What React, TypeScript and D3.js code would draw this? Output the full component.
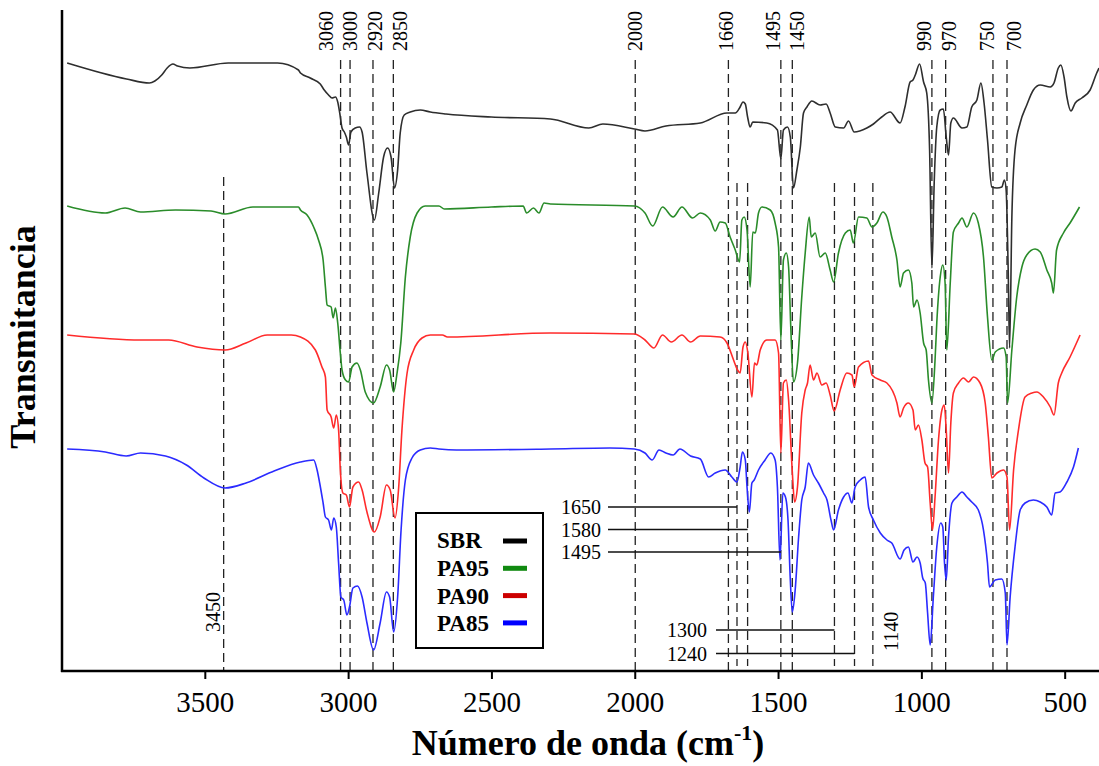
import React from 'react'
import * as d3 from 'd3'

type Pt = [number, number]

// [wavenumber cm-1, transmittance (a.u., offset per sample)]
const sbr: Pt[] = [
  [3982, 608], [3775, 592], [3695, 588], [3676, 590], [3652, 596], [3633, 603], [3613, 607], [3597, 605],
  [3554, 603], [3420, 608], [3248, 608], [3175, 601], [3168, 598], [3134, 593], [3099, 587], [3085, 581],
  [3070, 576], [3058, 573], [3046, 574], [3038, 569], [3031, 558], [3023, 543], [3015, 539], [3008, 534],
  [3000, 526], [2992, 539], [2977, 543], [2962, 544], [2953, 539], [2936, 498], [2910, 451], [2895, 478],
  [2878, 514], [2864, 523], [2852, 514], [2840, 483], [2829, 501], [2820, 538], [2806, 556], [2785, 559],
  [2750, 561], [2715, 559], [2660, 557], [2502, 554], [2296, 552], [2162, 543], [2113, 547], [2003, 542],
  [1966, 540], [1893, 545], [1773, 548], [1680, 558], [1651, 558], [1636, 563], [1624, 569], [1616, 567],
  [1608, 554], [1599, 544], [1590, 549], [1541, 548], [1504, 541], [1492, 512], [1483, 541], [1469, 544],
  [1459, 534], [1448, 483], [1436, 501], [1424, 524], [1413, 558], [1401, 564], [1384, 570], [1355, 566],
  [1334, 567], [1320, 558], [1302, 544], [1273, 543], [1256, 550], [1236, 539], [1192, 543], [1169, 547],
  [1140, 554], [1111, 559], [1076, 548], [1059, 564], [1041, 589], [1031, 591], [1023, 596], [1008, 607],
  [994, 589], [983, 578], [973, 521], [965, 403], [957, 488], [948, 544], [936, 561], [925, 562],
  [915, 534], [907, 516], [899, 548], [890, 553], [860, 543], [843, 544], [826, 564], [808, 571],
  [794, 588], [783, 568], [771, 531], [756, 484], [738, 483], [721, 484], [712, 491], [706, 481],
  [698, 388], [694, 323], [686, 454], [675, 521], [657, 548], [634, 566], [611, 581], [587, 586],
  [552, 584], [539, 588], [524, 603], [515, 606], [504, 594], [494, 574], [480, 560], [465, 568],
  [442, 573], [413, 581], [390, 598], [382, 603],
]

const pa95: Pt[] = [
  [3982, 465], [3849, 458], [3780, 463], [3726, 459], [3604, 461], [3480, 460], [3431, 457], [3334, 464],
  [3175, 464], [3168, 461], [3145, 456], [3122, 444], [3105, 431], [3089, 411], [3081, 384], [3075, 366],
  [3061, 364], [3054, 353], [3046, 363], [3038, 348], [3029, 318], [3023, 301], [3011, 291], [3000, 289],
  [2988, 304], [2971, 308], [2959, 301], [2942, 279], [2913, 268], [2890, 284], [2868, 306], [2857, 301],
  [2843, 279], [2831, 298], [2818, 328], [2802, 394], [2785, 434], [2761, 458], [2733, 465], [2685, 465],
  [2666, 462], [2502, 464], [2391, 465], [2379, 458], [2355, 463], [2336, 458], [2318, 468], [2296, 467],
  [2003, 465], [1966, 458], [1939, 445], [1905, 464], [1868, 454], [1837, 464], [1800, 453], [1773, 458],
  [1738, 451], [1721, 440], [1704, 449], [1686, 448], [1669, 434], [1651, 421], [1636, 409], [1628, 451],
  [1620, 454], [1610, 441], [1599, 384], [1590, 439], [1581, 438], [1570, 458], [1558, 464], [1529, 461],
  [1512, 448], [1500, 424], [1492, 331], [1483, 411], [1473, 418], [1465, 404], [1457, 341], [1448, 289],
  [1434, 308], [1419, 374], [1407, 418], [1393, 454], [1386, 434], [1372, 438], [1355, 414], [1337, 418],
  [1320, 401], [1308, 389], [1291, 418], [1267, 438], [1250, 441], [1239, 428], [1221, 454], [1192, 453],
  [1174, 444], [1157, 448], [1136, 459], [1122, 454], [1105, 434], [1087, 411], [1076, 384], [1064, 398],
  [1047, 401], [1035, 388], [1029, 364], [1017, 371], [1006, 358], [994, 328], [985, 321], [977, 291],
  [965, 268], [954, 311], [948, 348], [936, 394], [927, 406], [919, 388], [913, 321], [901, 388],
  [890, 439], [872, 448], [860, 453], [843, 444], [820, 458], [803, 448], [785, 414], [771, 354],
  [756, 311], [744, 319], [715, 323], [706, 314], [701, 268], [686, 321], [669, 374], [651, 404],
  [634, 416], [605, 422], [587, 419], [564, 401], [547, 388], [541, 378], [530, 421], [506, 438],
  [483, 448], [450, 464],
]

const pa90: Pt[] = [
  [3982, 336], [3726, 331], [3628, 331], [3529, 324], [3431, 321], [3358, 328], [3284, 336], [3200, 336],
  [3168, 334], [3116, 321], [3093, 304], [3081, 294], [3075, 261], [3061, 254], [3052, 243], [3043, 256],
  [3035, 241], [3029, 201], [3020, 178], [3008, 176], [2997, 164], [2985, 184], [2965, 189], [2953, 181],
  [2936, 159], [2910, 139], [2890, 154], [2868, 186], [2855, 181], [2838, 153], [2826, 181], [2814, 241],
  [2796, 298], [2773, 321], [2744, 333], [2715, 336], [2673, 336], [2655, 334], [2296, 338], [2003, 337],
  [1966, 331], [1935, 323], [1905, 336], [1874, 329], [1837, 336], [1807, 329], [1773, 335], [1704, 334],
  [1680, 328], [1657, 311], [1643, 301], [1634, 298], [1624, 324], [1616, 329], [1607, 318], [1593, 274],
  [1584, 308], [1576, 306], [1564, 321], [1541, 331], [1512, 331], [1500, 318], [1492, 218], [1483, 288],
  [1473, 291], [1465, 271], [1453, 204], [1444, 169], [1434, 184], [1419, 258], [1407, 281], [1399, 288],
  [1390, 306], [1378, 291], [1366, 298], [1349, 286], [1334, 288], [1320, 276], [1306, 260], [1285, 281],
  [1262, 298], [1244, 296], [1236, 284], [1221, 304], [1186, 310], [1174, 296], [1145, 291], [1122, 288],
  [1087, 268], [1076, 254], [1064, 263], [1047, 268], [1031, 261], [1023, 241], [1012, 246], [1000, 231],
  [989, 208], [980, 204], [971, 168], [963, 141], [954, 174], [942, 231], [930, 261], [922, 266],
  [915, 241], [907, 198], [899, 248], [890, 278], [872, 288], [855, 293], [837, 289], [820, 294],
  [797, 288], [779, 268], [768, 234], [756, 193], [738, 198], [715, 201], [703, 194], [694, 141],
  [680, 201], [663, 241], [640, 274], [616, 278], [599, 279], [576, 274], [552, 264], [539, 256],
  [524, 288], [512, 298], [483, 314], [448, 336],
]

const pa85: Pt[] = [
  [3982, 222], [3849, 219], [3776, 215], [3726, 218], [3639, 215], [3566, 206], [3505, 193], [3431, 183],
  [3358, 188], [3260, 200], [3168, 209], [3122, 211], [3110, 201], [3101, 188], [3089, 168], [3081, 154],
  [3070, 151], [3060, 141], [3052, 153], [3043, 144], [3035, 108], [3027, 74], [3017, 71], [3006, 56],
  [2997, 64], [2985, 83], [2969, 85], [2953, 74], [2936, 48], [2913, 21], [2890, 48], [2868, 79],
  [2857, 74], [2843, 39], [2829, 74], [2817, 141], [2802, 191], [2779, 213], [2750, 221], [2715, 223],
  [2685, 222], [2624, 221], [2296, 222], [2089, 223], [2003, 222], [1966, 218], [1941, 211], [1917, 221],
  [1893, 218], [1868, 216], [1844, 222], [1807, 215], [1773, 212], [1744, 194], [1721, 198], [1686, 201],
  [1663, 194], [1645, 189], [1634, 204], [1626, 219], [1616, 211], [1610, 184], [1602, 159], [1593, 188],
  [1585, 191], [1570, 201], [1547, 211], [1527, 218], [1512, 211], [1504, 184], [1495, 111], [1485, 178],
  [1476, 174], [1467, 151], [1459, 91], [1452, 59], [1442, 81], [1430, 134], [1419, 171], [1407, 184],
  [1396, 208], [1378, 196], [1361, 188], [1343, 178], [1331, 171], [1317, 151], [1308, 141], [1291, 161],
  [1273, 174], [1258, 178], [1244, 168], [1233, 184], [1215, 191], [1198, 194], [1186, 164], [1169, 151],
  [1145, 138], [1122, 131], [1105, 128], [1076, 112], [1062, 121], [1047, 124], [1031, 109], [1017, 114],
  [1006, 108], [997, 93], [988, 88], [980, 58], [971, 26], [960, 74], [948, 124], [934, 148],
  [927, 144], [921, 108], [915, 91], [907, 134], [895, 168], [878, 174], [860, 179], [843, 174],
  [826, 169], [803, 161], [785, 141], [771, 108], [764, 84], [744, 91], [721, 92], [709, 78],
  [703, 26], [692, 74], [675, 124], [657, 161], [640, 168], [611, 171], [587, 169], [564, 164],
  [547, 156], [535, 178], [518, 179], [494, 189], [471, 204], [454, 223],
]

const seriesNames = ['SBR', 'PA95', 'PA90', 'PA85']
const seriesData = [sbr, pa95, pa90, pa85]
const lineColors = ['#2e2e2e', '#2a8c2a', '#ff2b2b', '#2b2bff']
const legendColors = ['#000000', '#118a11', '#cc0000', '#0000ff']

const xTicks = [3500, 3000, 2500, 2000, 1500, 1000, 500]

// long dashed guides with labels on top
const topLines = [3028, 2995, 2915, 2844, 2000, 1675, 1492, 1452, 965, 917, 752, 703]
const topLabels = ['3060', '3000', '2920', '2850', '2000', '1660', '1495', '1450', '990', '970', '750', '700']
const topLabelAt = [3079, 2994, 2908, 2820, 2000, 1685, 1519, 1435, 993, 906, 773, 680]

// shorter dashed guides
const midLines = [1645, 1608, 1305, 1235, 1171]
const ohLine = 3436

// leader-line labels
const leftLabels = ['1650', '1580', '1495']
const leftTargets = [1645, 1608, 1492]
const lowLabels = ['1300', '1240']
const lowTargets = [1305, 1235]

const serif = '"Liberation Serif", "Times New Roman", Times, serif'

export default function App() {
  const width = 1099
  const height = 766
  const left = 62
  const bottom = 671
  const top = 10

  const x = d3.scaleLinear().domain([4000, 382]).range([left, width])
  const y = d3.scaleLinear().domain([0, 661]).range([bottom, top])

  const line = d3.line<Pt>().x(d => x(d[0])).y(d => y(d[1])).curve(d3.curveMonotoneX)

  const dash = '9,5'

  return (
    <svg width={width} height={height} style={{ position: 'absolute', left: 0, top: 0, background: '#fff' }}
      fontFamily={serif}>
      <rect width={width} height={height} fill="#fff" />

      {/* dashed guides */}
      {topLines.map((w, i) => (
        <line key={'t' + i} x1={x(w)} x2={x(w)} y1={60} y2={bottom} stroke="#222" strokeWidth={1.3} strokeDasharray={dash} />
      ))}
      {midLines.map((w, i) => (
        <line key={'m' + i} x1={x(w)} x2={x(w)} y1={183} y2={666} stroke="#222" strokeWidth={1.3} strokeDasharray={dash} />
      ))}
      <line x1={x(ohLine)} x2={x(ohLine)} y1={177} y2={bottom} stroke="#222" strokeWidth={1.3} strokeDasharray={dash} />

      {/* spectra */}
      {seriesData.map((d, i) => (
        <path key={seriesNames[i]} d={line(d) ?? ''} fill="none" stroke={lineColors[i]} strokeWidth={1.6} strokeLinejoin="round" />
      ))}

      {/* top labels */}
      {topLabels.map((t, i) => (
        <text key={'tl' + i} transform={`translate(${x(topLabelAt[i])},51) rotate(-90)`} dy="0.35em" fontSize={20} fill="#000">{t}</text>
      ))}
      <text transform={`translate(${x(3472)},632) rotate(-90)`} dy="0.35em" fontSize={20}>3450</text>
      <text transform={`translate(${x(1109)},651) rotate(-90)`} dy="0.35em" fontSize={20}>1140</text>

      {/* leader labels */}
      {leftLabels.map((t, i) => {
        const yy = 507 + i * 22.5
        return (
          <g key={'ll' + i}>
            <text x={601} y={yy} dy="0.35em" fontSize={20} textAnchor="end">{t}</text>
            <line x1={608} x2={x(leftTargets[i])} y1={yy} y2={yy} stroke="#111" strokeWidth={1.3} />
          </g>
        )
      })}
      {lowLabels.map((t, i) => {
        const yy = 630 + i * 23.5
        return (
          <g key={'lo' + i}>
            <text x={707} y={yy} dy="0.35em" fontSize={20} textAnchor="end">{t}</text>
            <line x1={716} x2={x(lowTargets[i])} y1={yy} y2={yy} stroke="#111" strokeWidth={1.3} />
          </g>
        )
      })}

      {/* axes */}
      <line x1={left} x2={left} y1={top} y2={bottom + 1} stroke="#000" strokeWidth={2.5} />
      <line x1={left - 1} x2={width} y1={bottom} y2={bottom} stroke="#000" strokeWidth={2.5} />
      {xTicks.map(t => (
        <g key={t}>
          <line x1={x(t)} x2={x(t)} y1={bottom} y2={bottom + 8} stroke="#000" strokeWidth={2} />
          <text x={x(t)} y={712} textAnchor="middle" fontSize={29}>{t}</text>
        </g>
      ))}

      <text x={588} y={755} textAnchor="middle" fontSize={36} fontWeight="bold">
        Número de onda (cm<tspan fontSize={22} dy={-15}>-1</tspan><tspan dy={15}>)</tspan>
      </text>
      <text transform="translate(35,337) rotate(-90)" textAnchor="middle" fontSize={36} fontWeight="bold">Transmitancia</text>

      {/* legend */}
      <rect x={416} y={513} width={127} height={135} fill="#fff" stroke="#000" strokeWidth={2} />
      {seriesNames.map((n, i) => (
        <g key={'lg' + n}>
          <text x={437} y={548 + i * 27.8} fontSize={23} fontWeight="bold">{n}</text>
          <line x1={503} x2={527} y1={541 + i * 27.3} y2={541 + i * 27.3} stroke={legendColors[i]} strokeWidth={5} />
        </g>
      ))}
    </svg>
  )
}
